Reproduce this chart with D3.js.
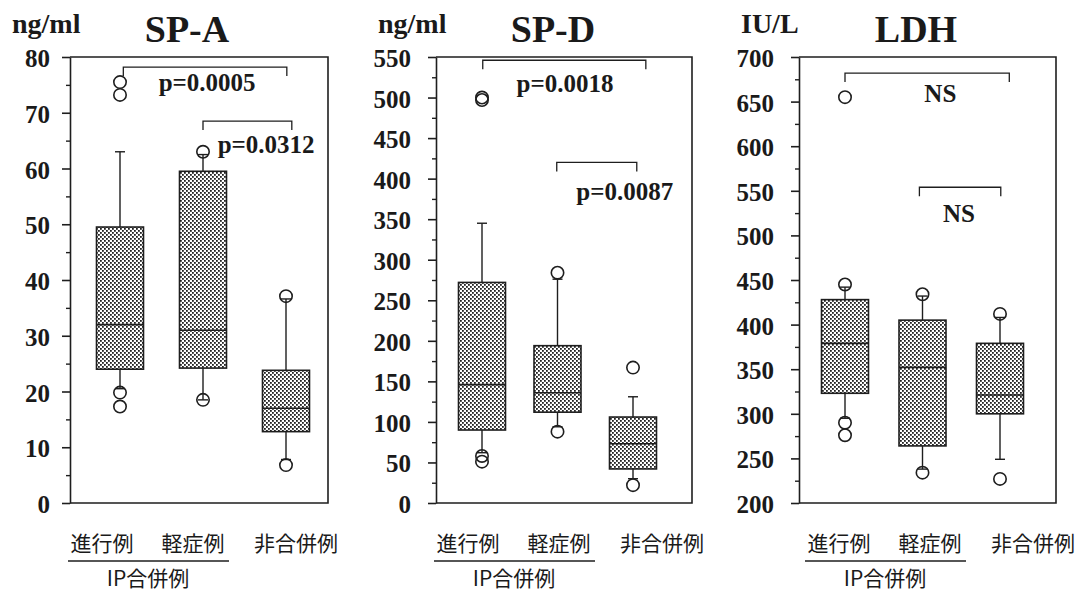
<!DOCTYPE html>
<html>
<head>
<meta charset="utf-8">
<script src="https://cdn.jsdelivr.net/npm/d3@7/dist/d3.min.js"></script>
<style>
  body { margin: 0; background: #fff; }
  svg text.num { font-family: "Liberation Serif", "Times New Roman", serif; font-weight: bold; fill: #1a1a1a; }
  svg text.jp  { font-family: "Noto Sans CJK JP", sans-serif; fill: #1a1a1a; }
</style>
</head>
<body>
<svg id="chart" width="1079" height="593"></svg>
<script>
// ── Data ────────────────────────────────────────────────────────────────
var groups       = ['進行例', '軽症例', '非合併例'];
var groupCaption = 'IP合併例';

// SP-A (ng/ml)
var spaQ1       = [24, 24.2, 12.8];
var spaMedian   = [32, 31, 17];
var spaQ3       = [49.5, 59.5, 23.8];
var spaLow      = [20.5, 18.5, 7.8];
var spaHigh     = [63, 62.5, 36.6];
var spaOutliers = [[75.5, 73.2, 19.8, 17.3], [63, 18.5], [37.1, 6.8]];
var spaTicks    = [0, 10, 20, 30, 40, 50, 60, 70, 80];

// SP-D (ng/ml)
var spdQ1       = [90, 112, 42];
var spdMedian   = [146, 136, 73];
var spdQ3       = [272, 194, 106];
var spdLow      = [62, 94, 30];
var spdHigh     = [345, 276, 131];
var spdOutliers = [[500, 497, 58, 51], [284, 88], [167, 22]];
var spdTicks    = [0, 50, 100, 150, 200, 250, 300, 350, 400, 450, 500, 550];

// LDH (IU/L)
var ldhQ1       = [323, 264, 300];
var ldhMedian   = [379, 352, 321];
var ldhQ3       = [428, 405, 379];
var ldhLow      = [295, 238, 249];
var ldhHigh     = [442, 432, 408];
var ldhOutliers = [[655, 445, 290, 276], [434, 234], [412, 227]];
var ldhTicks    = [200, 250, 300, 350, 400, 450, 500, 550, 600, 650, 700];

// significance brackets: [fromGroup, toGroup, level, label, labelX, labelY]
var spaBrackets = [[0.04, 2.01, 78.2, 'p=0.0005', 1.05, 73.9], [1.0, 2.07, 68.5, 'p=0.0312', 1.76, 62.8]];
var spdBrackets = [[0.01, 2.17, 546, 'p=0.0018', 1.1, 507], [0.99, 2.05, 420, 'p=0.0087', 1.89, 374]];
var ldhBrackets = [[0.0, 2.12, 682, 'NS', 1.23, 650], [0.96, 2.01, 554, 'NS', 1.47, 515]];

var panels = [
  { title: 'SP-A', unit: 'ng/ml', ticks: spaTicks, minor: 5,  q1: spaQ1, med: spaMedian, q3: spaQ3,
    lo: spaLow, hi: spaHigh, out: spaOutliers, brackets: spaBrackets,
    axisX: 70,  right: 328,  first: 120, last: 286,  labelShift: 0 },
  { title: 'SP-D', unit: 'ng/ml', ticks: spdTicks, minor: 25, q1: spdQ1, med: spdMedian, q3: spdQ3,
    lo: spdLow, hi: spdHigh, out: spdOutliers, brackets: spdBrackets,
    axisX: 436, right: 692,  first: 482, last: 633,  labelShift: 0 },
  { title: 'LDH',  unit: 'IU/L',  ticks: ldhTicks, minor: 25, q1: ldhQ1, med: ldhMedian, q3: ldhQ3,
    lo: ldhLow, hi: ldhHigh, out: ldhOutliers, brackets: ldhBrackets,
    axisX: 799, right: 1056, first: 845, last: 1000, labelShift: 8 }
];

// ── Drawing ─────────────────────────────────────────────────────────────
var INK = '#1e1e1e', TOP = 57, BOTTOM = 503, BOX_W = 47, CAP = 5;
var SERIF = '"Liberation Serif", "Times New Roman", serif';

var svg = d3.select('#chart');

// stipple fill for the boxes
var pat = svg.append('defs').append('pattern')
    .attr('id', 'dots').attr('patternUnits', 'userSpaceOnUse')
    .attr('width', 4).attr('height', 4);
pat.append('rect').attr('width', 4).attr('height', 4).attr('fill', '#fff');
pat.append('rect').attr('x', 0).attr('y', 0).attr('width', 1.8).attr('height', 1.8).attr('fill', '#222');
pat.append('rect').attr('x', 2).attr('y', 2).attr('width', 1.8).attr('height', 1.8).attr('fill', '#222');

panels.forEach(function (p) {
  var g = svg.append('g');
  var lo = p.ticks[0], hi = p.ticks[p.ticks.length - 1];

  var y = d3.scaleLinear().domain([lo, hi]).range([BOTTOM, TOP]);
  var x = d3.scaleLinear().domain([0, 2]).range([p.first, p.last]);

  // frame (top + right + bottom)
  g.append('path')
    .attr('d', 'M' + p.axisX + ',' + TOP + 'H' + p.right + 'V' + BOTTOM + 'H' + p.axisX)
    .attr('fill', 'none').attr('stroke', INK).attr('stroke-width', 1.6);

  // minor ticks
  var minorVals = d3.range(lo + p.minor, hi, p.minor).filter(function (v) {
    return p.ticks.indexOf(v) < 0;
  });
  g.append('g')
    .attr('transform', 'translate(' + p.axisX + ',0)')
    .call(d3.axisLeft(y).tickValues(minorVals).tickSize(4).tickSizeOuter(0).tickFormat(''))
    .call(function (a) { a.select('.domain').remove(); })
    .selectAll('line').attr('stroke', INK).attr('stroke-width', 1.4);

  // major ticks + labels
  var ax = g.append('g')
    .attr('transform', 'translate(' + p.axisX + ',0)')
    .call(d3.axisLeft(y).tickValues(p.ticks).tickSize(8).tickSizeOuter(0).tickPadding(p.axisX < 100 ? 12 : 17));
  ax.select('.domain').attr('stroke', INK).attr('stroke-width', 1.6);
  ax.selectAll('line').attr('stroke', INK).attr('stroke-width', 1.6);
  ax.selectAll('text')
    .style('font-family', SERIF).style('font-weight', 'bold').style('font-size', '25px')
    .attr('fill', '#1a1a1a').attr('dy', '0.38em');

  // titles
  g.append('text').attr('class', 'num')
    .attr('x', p.axisX + 117).attr('y', 42).attr('text-anchor', 'middle')
    .attr('font-size', 38).text(p.title);
  g.append('text').attr('class', 'num')
    .attr('x', p.axisX - 58).attr('y', 33).attr('font-size', 28).text(p.unit);

  // boxes
  groups.forEach(function (name, i) {
    var cx = x(i);
    var bg = g.append('g');
    bg.append('line').attr('x1', cx).attr('x2', cx).attr('y1', y(p.q3[i])).attr('y2', y(p.hi[i]));
    bg.append('line').attr('x1', cx).attr('x2', cx).attr('y1', y(p.q1[i])).attr('y2', y(p.lo[i]));
    bg.append('line').attr('x1', cx - CAP).attr('x2', cx + CAP).attr('y1', y(p.hi[i])).attr('y2', y(p.hi[i]));
    bg.append('line').attr('x1', cx - CAP).attr('x2', cx + CAP).attr('y1', y(p.lo[i])).attr('y2', y(p.lo[i]));
    bg.selectAll('line').attr('stroke', INK).attr('stroke-width', 1.4);

    bg.append('rect')
      .attr('x', cx - BOX_W / 2).attr('width', BOX_W)
      .attr('y', y(p.q3[i])).attr('height', y(p.q1[i]) - y(p.q3[i]))
      .attr('fill', 'url(#dots)').attr('stroke', INK).attr('stroke-width', 1.6);
    bg.append('line')
      .attr('x1', cx - BOX_W / 2).attr('x2', cx + BOX_W / 2)
      .attr('y1', y(p.med[i])).attr('y2', y(p.med[i]))
      .attr('stroke', INK).attr('stroke-width', 1.6);

    bg.selectAll('circle.out').data(p.out[i]).enter().append('circle')
      .attr('class', 'out')
      .attr('cx', cx).attr('cy', function (d) { return y(d); }).attr('r', 6.2)
      .attr('fill', 'none').attr('stroke', INK).attr('stroke-width', 1.6);
  });

  // significance brackets
  p.brackets.forEach(function (b) {
    var by = y(b[2]);
    g.append('path')
      .attr('d', 'M' + x(b[0]) + ',' + (by + 9) + 'V' + by + 'H' + x(b[1]) + 'V' + (by + 9))
      .attr('fill', 'none').attr('stroke', INK).attr('stroke-width', 1.3);
    g.append('text').attr('class', 'num')
      .attr('x', x(b[4])).attr('y', y(b[5])).attr('text-anchor', 'middle')
      .attr('font-size', 25).text(b[3]);
  });

  // group labels under the axis
  var labelX = [32, 123, 226];
  groups.forEach(function (name, i) {
    g.append('text').attr('class', 'jp')
      .attr('x', p.axisX + labelX[i] + p.labelShift).attr('y', 551)
      .attr('text-anchor', 'middle').attr('font-size', 21).text(name);
  });
  g.append('line')
    .attr('x1', p.axisX - 2 + p.labelShift).attr('x2', p.axisX + 159 + p.labelShift)
    .attr('y1', 561).attr('y2', 561)
    .attr('stroke', INK).attr('stroke-width', 1.5);
  g.append('text').attr('class', 'jp')
    .attr('x', p.axisX + 78 + p.labelShift).attr('y', 586)
    .attr('text-anchor', 'middle').attr('font-size', 21).text(groupCaption);
});
</script>
</body>
</html>
